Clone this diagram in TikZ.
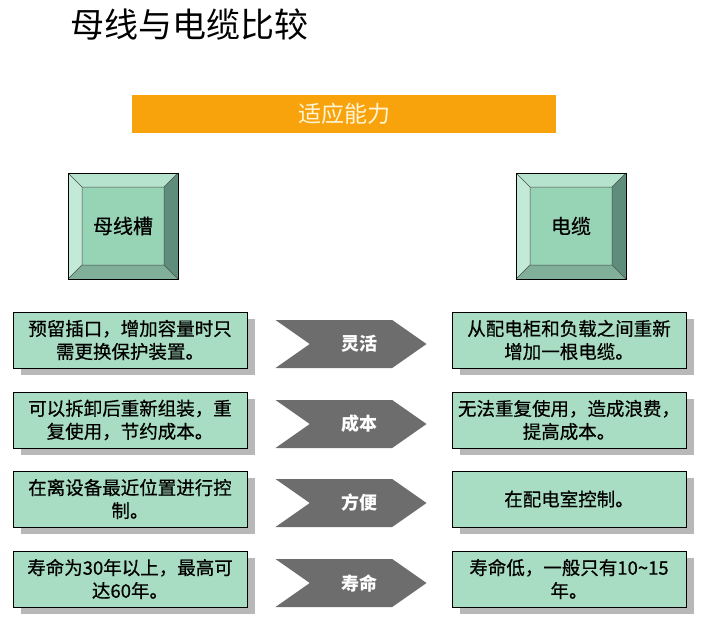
\documentclass[tikz,border=0pt]{standalone}
\usepackage{fontspec}
\setmainfont{Noto Sans CJK SC}
\newfontfamily\cellfont{Noto Sans CJK SC}[FakeBold=0.6]
\usepackage{xcolor}
\usetikzlibrary{shapes.symbols, shadows}
\definecolor{cellfill}{HTML}{A9DDC3}
\definecolor{bevface}{HTML}{97D3B5}
\definecolor{bevtop}{HTML}{B5E3CD}
\definecolor{bevleft}{HTML}{C3EAD7}
\definecolor{bevright}{HTML}{5E8E7B}
\definecolor{bevbot}{HTML}{80B09A}
\definecolor{barorange}{HTML}{F8A20C}
\definecolor{bartext}{HTML}{FFF6D8}
\definecolor{chevgray}{HTML}{6D6D6D}
\definecolor{shadowgray}{HTML}{B8B8B8}
\tikzset{
  cell/.style={draw=black, fill=cellfill, line width=0.8pt,
               minimum width=234, minimum height=56, inner sep=0pt,
               text width=226, align=center, font=\cellfont\fontsize{18.5}{23}\selectfont,
               drop shadow={shadow xshift=8pt, shadow yshift=-7pt, fill=shadowgray, opacity=1}},
  chev/.style={signal, signal to=east, signal from=west, signal pointer angle=70,
               fill=chevgray, draw=none, minimum width=151, minimum height=48, inner sep=0pt,
               text=white, font=\bfseries\fontsize{18}{20}\selectfont},
  hdr/.style={fill=barorange, minimum width=424, minimum height=38, inner sep=0pt,
              text=bartext, font=\fontsize{23}{25}\selectfont},
  bev/.style={draw=black, line width=0.6pt, fill=bevface, minimum width=110, minimum height=106,
              inner sep=0pt, font=\cellfont\fontsize{20}{22}\selectfont,
              path picture={
                \path (path picture bounding box.north west) coordinate (nw)
                      (path picture bounding box.north east) coordinate (ne)
                      (path picture bounding box.south west) coordinate (sw)
                      (path picture bounding box.south east) coordinate (se);
                \path ([xshift=14pt,yshift=-14pt]nw) coordinate (inw)
                      ([xshift=-14pt,yshift=-14pt]ne) coordinate (ine)
                      ([xshift=14pt,yshift=14pt]sw) coordinate (isw)
                      ([xshift=-14pt,yshift=14pt]se) coordinate (ise);
                \fill[bevtop] (nw) -- (ne) -- (ine) -- (inw) -- cycle;
                \fill[bevleft] (nw) -- (inw) -- (isw) -- (sw) -- cycle;
                \fill[bevright] (ne) -- (se) -- (ise) -- (ine) -- cycle;
                \fill[bevbot] (sw) -- (isw) -- (ise) -- (se) -- cycle;
                \draw[black!70, line width=0.5pt] (inw) rectangle (ise)
                      (nw) -- (inw) (ne) -- (ine) (sw) -- (isw) (se) -- (ise);
              }}
}

\begin{document}
\begin{tikzpicture}[x=1pt, y=-1pt]
  \useasboundingbox[fill=white] (0,0) rectangle (711,630);
  % title and header
  \node[font=\fontsize{34}{36}\selectfont] (title) at (189,25) {母线与电缆比较};
  \node[hdr] (ability) at (344,114) {适应能力};
  \node[bev] (busway) at (123,226) {母线槽};
  \node[bev] (cable) at (571,226) {电缆};
  % left column
  \node[cell] (l1) at (130,340) {预留插口，增加容量时只\\需更换保护装置。};
  \node[cell] (l2) at (130,420) {可以拆卸后重新组装，重\\复使用，节约成本。};
  \node[cell] (l3) at (130,499) {在离设备最近位置进行控\\制。};
  \node[cell] (l4) at (130,579) {寿命为30年以上，最高可\\达60年。};
  % right column
  \node[cell] (r1) at (569,340) {从配电柜和负载之间重新\\增加一根电缆。};
  \node[cell] (r2) at (569,420) {无法重复使用，造成浪费，\\提高成本。};
  \node[cell] (r3) at (569,499) {在配电室控制。};
  \node[cell] (r4) at (569,579) {寿命低，一般只有10\textasciitilde15\\年。};
  % chevrons
  \foreach \n/\y/\t in {c1/344/灵活, c2/424/成本, c3/503/方便, c4/583/寿命}
    \node[chev] (\n) at (351,\y) {\hspace*{16pt}\t};
\end{tikzpicture}
\end{document}
